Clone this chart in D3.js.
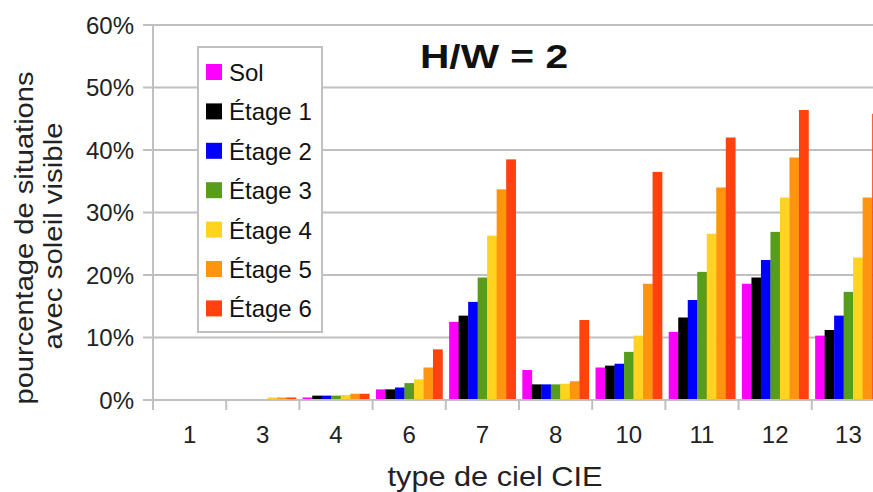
<!DOCTYPE html>
<html lang="fr">
<head>
<meta charset="utf-8">
<title>H/W = 2</title>
<script src="https://cdn.jsdelivr.net/npm/d3@7"></script>
<style>
  body { margin: 0; padding: 0; background: #fff; }
  svg { display: block; font-family: "Liberation Sans", Arial, sans-serif; }
  .grid line { stroke: #c0c0c0; stroke-width: 2; }
  .tick-label { font-size: 24px; fill: #222; }
  .legend text { font-size: 24px; fill: #111; }
</style>
</head>
<body>
<svg id="chart" width="873" height="492"></svg>
<script>
// sky types (x categories)
var skyTypes = ["1", "3", "4", "6", "7", "8", "10", "11", "12", "13"];
var seriesNames = ["Sol", "Étage 1", "Étage 2", "Étage 3", "Étage 4", "Étage 5", "Étage 6"];
var seriesColors = ["#ff00ff", "#000000", "#0000ff", "#579d1c", "#ffd320", "#ff950e", "#ff420e"];
var yTicks = [0, 0.1, 0.2, 0.3, 0.4, 0.5, 0.6];

// percentages, one array per series (same order as skyTypes)
var sol    = [0, 0,   0.4, 1.7, 12.5, 4.8,  5.2, 10.9, 18.6, 10.3];
var etage1 = [0, 0,   0.7, 1.7, 13.5, 2.5,  5.5, 13.2, 19.6, 11.2];
var etage2 = [0, 0,   0.7, 2.0, 15.7, 2.5,  5.8, 16.0, 22.4, 13.5];
var etage3 = [0, 0,   0.7, 2.7, 19.6, 2.5,  7.7, 20.5, 26.9, 17.3];
var etage4 = [0, 0.4, 0.8, 3.3, 26.3, 2.6, 10.3, 26.6, 32.4, 22.8];
var etage5 = [0, 0.4, 1.0, 5.2, 33.7, 3.0, 18.6, 34.0, 38.8, 32.4];
var etage6 = [0, 0.4, 1.0, 8.1, 38.5, 12.8, 36.5, 42.0, 46.4, 45.8];

var allSeries = [sol, etage1, etage2, etage3, etage4, etage5, etage6];

var svg = d3.select("#chart");

var x0 = d3.scaleBand()
    .domain(skyTypes)
    .range([153, 153 + 73.2 * skyTypes.length])
    .padding(0);

var x1 = d3.scaleBand()
    .domain(seriesNames)
    .range([0, x0.bandwidth()])
    .paddingInner(0)
    .paddingOuter(0.35);

var y = d3.scaleLinear()
    .domain([0, 0.6])
    .range([400, 25]);

// horizontal grid lines
svg.append("g")
    .attr("class", "grid")
    .selectAll("line")
    .data(yTicks)
    .enter().append("line")
    .attr("x1", 143)
    .attr("x2", x0.range()[1])
    .attr("y1", function (d) { return y(d); })
    .attr("y2", function (d) { return y(d); });

// y axis line and x tick marks
var axisG = svg.append("g").attr("class", "grid");
axisG.append("line")
    .attr("x1", 153).attr("x2", 153)
    .attr("y1", y(0.6)).attr("y2", y(0) + 10);
axisG.selectAll(".xt")
    .data(skyTypes.slice(1))
    .enter().append("line")
    .attr("class", "xt")
    .attr("x1", function (d) { return x0(d); })
    .attr("x2", function (d) { return x0(d); })
    .attr("y1", y(0))
    .attr("y2", y(0) + 10);

// y tick labels
svg.append("g")
    .selectAll("text")
    .data(yTicks)
    .enter().append("text")
    .attr("class", "tick-label")
    .attr("x", 134)
    .attr("y", function (d) { return y(d); })
    .attr("dy", "0.36em")
    .attr("text-anchor", "end")
    .text(d3.format(".0%"));

// x tick labels
svg.append("g")
    .selectAll("text")
    .data(skyTypes)
    .enter().append("text")
    .attr("class", "tick-label")
    .attr("x", function (d) { return x0(d) + x0.bandwidth() / 2; })
    .attr("y", 443)
    .attr("text-anchor", "middle")
    .text(function (d) { return d; });

// bars
var groups = svg.append("g")
    .selectAll("g")
    .data(skyTypes)
    .enter().append("g")
    .attr("transform", function (d) { return "translate(" + x0(d) + ",0)"; });

groups.selectAll("rect")
    .data(function (d, i) {
        return seriesNames.map(function (name, s) {
            return { key: name, color: seriesColors[s], value: allSeries[s][i] / 100 };
        });
    })
    .enter().append("rect")
    .attr("x", function (d) { return x1(d.key); })
    .attr("width", x1.bandwidth() + 0.3)
    .attr("y", function (d) { return y(d.value); })
    .attr("height", function (d) { return y(0) - y(d.value); })
    .attr("fill", function (d) { return d.color; });

// redraw baseline on top of bars
svg.append("line")
    .attr("x1", 143).attr("x2", x0.range()[1])
    .attr("y1", y(0)).attr("y2", y(0))
    .attr("stroke", "#c0c0c0").attr("stroke-width", 2);

// legend
var legend = svg.append("g").attr("class", "legend");
legend.append("rect")
    .attr("x", 198).attr("y", 47)
    .attr("width", 124).attr("height", 285)
    .attr("fill", "#fff")
    .attr("stroke", "#c0c0c0")
    .attr("stroke-width", 2);

var items = legend.selectAll(".item")
    .data(seriesNames)
    .enter().append("g")
    .attr("class", "item")
    .attr("transform", function (d, i) { return "translate(0," + (72 + i * 39.4) + ")"; });

items.append("rect")
    .attr("x", 206).attr("y", -8)
    .attr("width", 16).attr("height", 16)
    .attr("fill", function (d, i) { return seriesColors[i]; });

items.append("text")
    .attr("x", 229)
    .attr("y", 9)
    .text(function (d) { return d; });

// title
svg.append("text")
    .attr("x", 494)
    .attr("y", 68)
    .attr("text-anchor", "middle")
    .attr("font-size", "34px")
    .attr("font-weight", "bold")
    .attr("fill", "#111")
    .attr("textLength", 148)
    .attr("lengthAdjust", "spacingAndGlyphs")
    .text("H/W = 2");

// axis titles
svg.append("text")
    .attr("x", 495)
    .attr("y", 486)
    .attr("text-anchor", "middle")
    .attr("font-size", "28px")
    .attr("fill", "#222")
    .attr("textLength", 215)
    .attr("lengthAdjust", "spacingAndGlyphs")
    .text("type de ciel CIE");

svg.append("text")
    .attr("transform", "translate(33,238) rotate(-90)")
    .attr("text-anchor", "middle")
    .attr("font-size", "25px")
    .attr("fill", "#222")
    .attr("textLength", 333)
    .attr("lengthAdjust", "spacingAndGlyphs")
    .text("pourcentage de situations");

svg.append("text")
    .attr("transform", "translate(62,236) rotate(-90)")
    .attr("text-anchor", "middle")
    .attr("font-size", "25px")
    .attr("fill", "#222")
    .attr("textLength", 227)
    .attr("lengthAdjust", "spacingAndGlyphs")
    .text("avec soleil visible");
</script>
</body>
</html>
